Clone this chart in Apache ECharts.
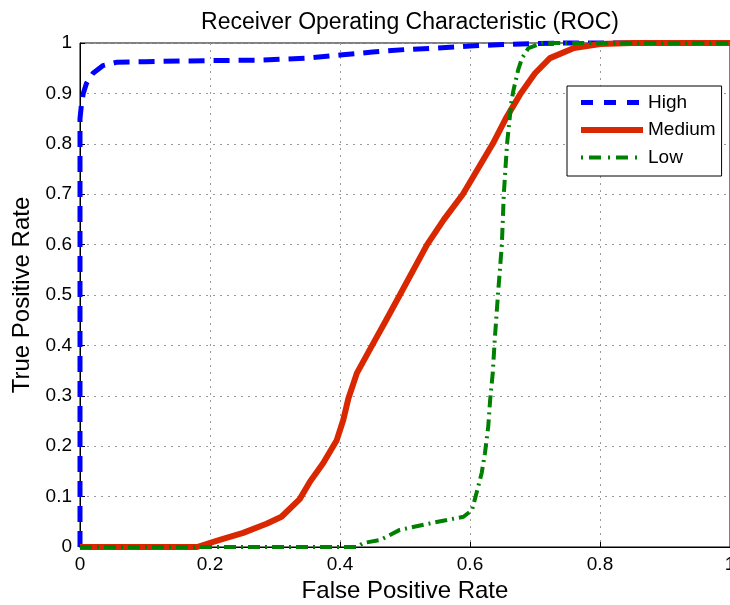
<!DOCTYPE html>
<html>
<head>
<meta charset="utf-8">
<script src="https://cdn.jsdelivr.net/npm/echarts@6/dist/echarts.min.js"></script>
<style>
  html, body { margin: 0; padding: 0; background: #fff; }
  #chart { width: 730px; height: 605px; }
</style>
</head>
<body>
<div id="chart"></div>
<script>
// ROC curves
const seriesNames = ['High', 'Medium', 'Low'];

const highX = [0, 0, 0.002, 0.005, 0.01, 0.02, 0.035, 0.057, 0.1, 0.2, 0.28, 0.35, 0.4, 0.45, 0.5, 0.55, 0.6, 0.65, 0.7, 0.75, 1];
const highY = [0, 0.85, 0.875, 0.9, 0.92, 0.94, 0.955, 0.962, 0.963, 0.965, 0.966, 0.97, 0.976, 0.982, 0.987, 0.99, 0.994, 0.997, 0.999, 1, 1];

const mediumX = [0, 0.18, 0.215, 0.251, 0.287, 0.31, 0.338, 0.354, 0.374, 0.395, 0.405, 0.413, 0.426, 0.449, 0.47, 0.492, 0.534, 0.56, 0.589, 0.612, 0.635, 0.655, 0.678, 0.7, 0.723, 0.76, 0.8, 0.85, 1];
const mediumY = [0, 0, 0.014, 0.028, 0.046, 0.06, 0.095, 0.13, 0.166, 0.212, 0.252, 0.295, 0.345, 0.399, 0.448, 0.5, 0.6, 0.65, 0.7, 0.75, 0.8, 0.85, 0.9, 0.94, 0.97, 0.99, 0.998, 1, 1];

const lowX = [0, 0.426, 0.436, 0.462, 0.492, 0.543, 0.59, 0.603, 0.61, 0.618, 0.623, 0.628, 0.631, 0.635, 0.638, 0.643, 0.649, 0.652, 0.657, 0.664, 0.667, 0.674, 0.68, 0.69, 0.712, 1];
const lowY = [0, 0, 0.008, 0.014, 0.034, 0.048, 0.06, 0.073, 0.107, 0.147, 0.186, 0.238, 0.292, 0.345, 0.41, 0.5, 0.6, 0.7, 0.8, 0.887, 0.907, 0.946, 0.97, 0.99, 1, 1];

function pairs(xs, ys) {
    return xs.map((x, i) => [x, ys[i]]);
}

const FONT = 'Liberation Sans, Arial, sans-serif';
const BLUE = '#0000ff', RED = '#d92800', GREEN = '#008000';
const gridLine = { show: true, lineStyle: { color: '#999', type: [2, 5], width: 1 } };

const chart = echarts.init(document.getElementById('chart'));

chart.setOption({
    animation: false,
    backgroundColor: '#fff',
    title: {
        text: 'Receiver Operating Characteristic (ROC)',
        left: 405,
        textAlign: 'center',
        top: 6,
        textStyle: { fontFamily: FONT, fontSize: 23, fontWeight: 'normal', color: '#000' }
    },
    grid: {
        left: 80, right: 0, top: 43, bottom: 58,
        outerBoundsMode: 'none',
        show: true, borderColor: '#000', borderWidth: 1,
        containLabel: false
    },
    legend: {
        orient: 'vertical',
        left: 567, top: 86,
        padding: [7, 6, 9, 11],
        itemGap: 8.5,
        itemWidth: 62,
        itemHeight: 19,
        backgroundColor: '#fff',
        borderColor: '#000',
        borderWidth: 1,
        borderRadius: 0,
        itemStyle: { opacity: 0 },
        textStyle: { fontFamily: FONT, fontSize: 19, color: '#000' },
        data: [
            { name: seriesNames[0], lineStyle: { width: 5, type: [12, 11] } },
            { name: seriesNames[1], lineStyle: { width: 6 } },
            { name: seriesNames[2], lineStyle: { width: 4, type: [2, 6, 12, 7] } }
        ]
    },
    xAxis: {
        type: 'value',
        min: 0, max: 1, interval: 0.2,
        name: 'False Positive Rate',
        nameLocation: 'middle',
        nameGap: 32,
        nameTextStyle: { fontFamily: FONT, fontSize: 24, color: '#000' },
        axisLine: { lineStyle: { color: '#000', width: 1 } },
        axisTick: { inside: true, length: 5, lineStyle: { color: '#000' } },
        axisLabel: { fontFamily: FONT, fontSize: 19, color: '#000', margin: 8 },
        splitLine: gridLine
    },
    yAxis: {
        type: 'value',
        min: 0, max: 1, interval: 0.1,
        name: 'True Positive Rate',
        nameLocation: 'middle',
        nameGap: 45,
        nameTextStyle: { fontFamily: FONT, fontSize: 24, color: '#000' },
        axisLine: { lineStyle: { color: '#000', width: 1 } },
        axisTick: { inside: true, length: 5, lineStyle: { color: '#000' } },
        axisLabel: { fontFamily: FONT, fontSize: 19, color: '#000', margin: 8 },
        splitLine: gridLine
    },
    series: [
        {
            name: seriesNames[0], type: 'line', showSymbol: false, symbol: 'none', clip: false,
            data: pairs(highX, highY),
            lineStyle: { color: BLUE, width: 5, type: [16, 9] },
            itemStyle: { color: BLUE }
        },
        {
            name: seriesNames[1], type: 'line', showSymbol: false, symbol: 'none', clip: false,
            data: pairs(mediumX, mediumY),
            lineStyle: { color: RED, width: 6 },
            itemStyle: { color: RED }
        },
        {
            name: seriesNames[2], type: 'line', showSymbol: false, symbol: 'none', clip: false,
            data: pairs(lowX, lowY),
            lineStyle: { color: GREEN, width: 4, type: [12, 5, 2, 5] },
            itemStyle: { color: GREEN }
        }
    ]
});
</script>
</body>
</html>
